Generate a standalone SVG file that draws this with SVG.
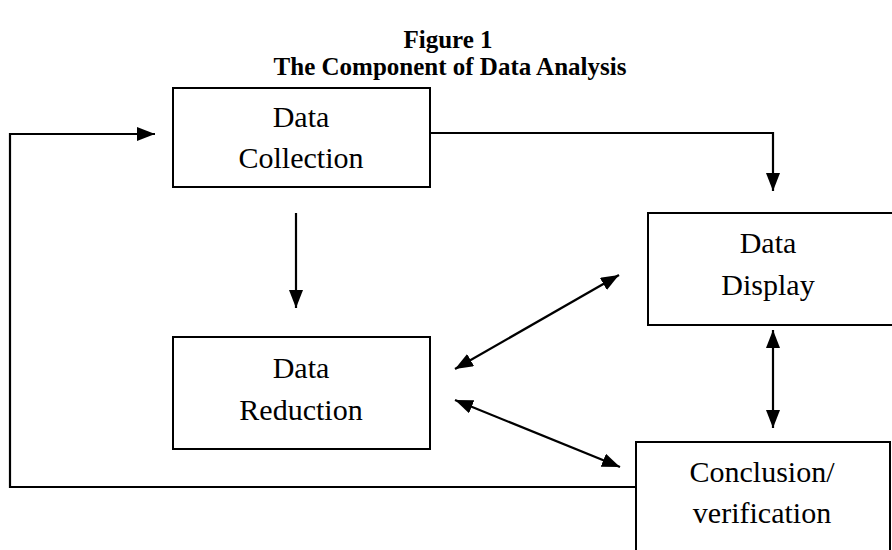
<svg xmlns="http://www.w3.org/2000/svg" width="892" height="550" viewBox="0 0 892 550">
<style>
.box{fill:#fff;stroke:#000;stroke-width:2}
.t{font-family:"Liberation Serif","Times New Roman",serif;font-size:30px;text-anchor:middle;fill:#000}
.title{font-family:"Liberation Serif","Times New Roman",serif;font-size:25px;font-weight:bold;text-anchor:middle;fill:#000}
.ln{fill:none;stroke:#000;stroke-width:2.2}
</style>
<defs>
<marker id="a" viewBox="0 0 18 14" refX="18" refY="7" markerWidth="18" markerHeight="14" markerUnits="userSpaceOnUse" orient="auto-start-reverse">
<path d="M0,0 L18,7 L0,14 z" fill="#000"/>
</marker>
</defs>
<g id="title">
<text class="title" x="448" y="48">Figure 1</text>
<text class="title" x="450" y="75">The Component of Data Analysis</text>
</g>
<g id="connectors">
<path class="ln" d="M636,487 L10,487 L10,134 L155,134" marker-end="url(#a)"/>
<path class="ln" d="M430,133 L773,133 L773,191" marker-end="url(#a)"/>
<path class="ln" d="M296,213 L296,308" marker-end="url(#a)"/>
<path class="ln" d="M455,369 L619,275" marker-start="url(#a)" marker-end="url(#a)"/>
<path class="ln" d="M455,400 L620,467" marker-start="url(#a)" marker-end="url(#a)"/>
<path class="ln" d="M773,330 L773,428" marker-start="url(#a)" marker-end="url(#a)"/>
</g>
<g id="collection">
<rect class="box" x="173" y="88" width="257" height="99"/>
<text class="t" x="301" y="127">Data</text>
<text class="t" x="301" y="168">Collection</text>
</g>
<g id="display">
<rect class="box" x="648" y="213" width="246" height="112"/>
<text class="t" x="768" y="253">Data</text>
<text class="t" x="768" y="295">Display</text>
</g>
<g id="reduction">
<rect class="box" x="173" y="337" width="257" height="112"/>
<text class="t" x="301" y="378">Data</text>
<text class="t" x="301" y="420">Reduction</text>
</g>
<g id="conclusion">
<rect class="box" x="636" y="442" width="254" height="112"/>
<text class="t" x="762" y="482">Conclusion/</text>
<text class="t" x="762" y="523">verification</text>
</g>
</svg>
